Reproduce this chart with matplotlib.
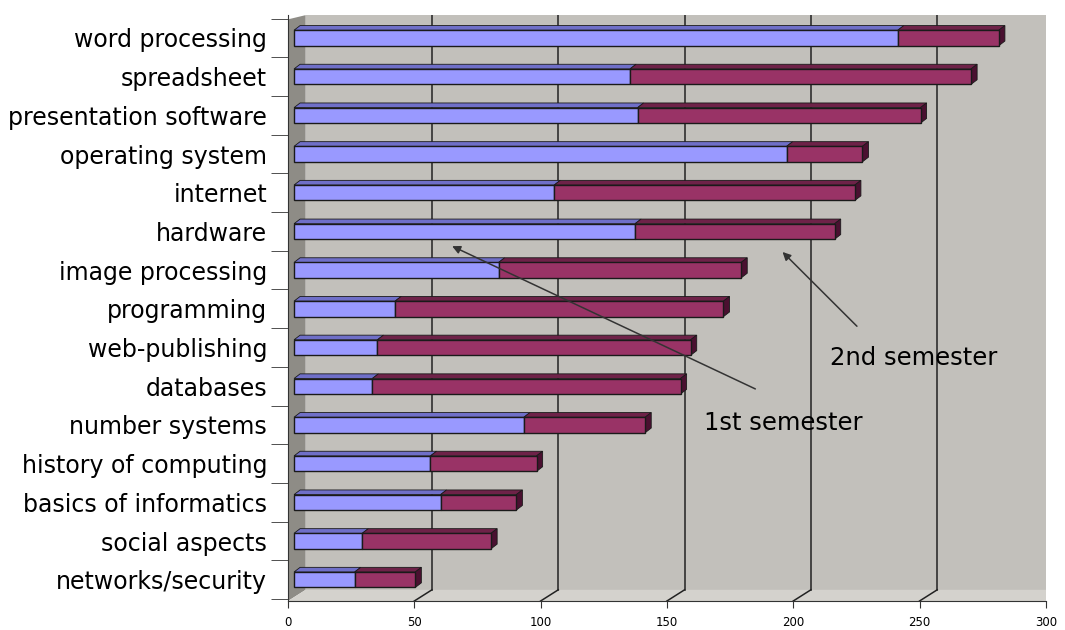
import matplotlib.pyplot as plt
from matplotlib.patches import Polygon

# data (front face of each bar)
topics = ["word processing", "spreadsheet", "presentation software",
          "operating system", "internet", "hardware", "image processing",
          "programming", "web-publishing", "databases", "number systems",
          "history of computing", "basics of informatics", "social aspects",
          "networks/security"]
first_sem = [239, 133, 136, 195, 103, 135, 81, 40, 33, 31, 91, 54, 58, 27, 24]
second_sem = [40, 135, 112, 30, 119, 79, 96, 130, 124, 122, 48, 42, 30, 51, 24]
x_ticks = [0, 50, 100, 150, 200, 250, 300]

# style constants for the fake 3D look
BLUE, BLUE_TOP = "#9999ff", "#6f6fc8"
RED, RED_TOP, RED_SIDE = "#993366", "#6e2248", "#4a1030"
WALL, SIDE_WALL, FLOOR = "#c2c0bb", "#8e8c86", "#d4d2cd"
DEPTH = 7.0      # wall depth in data units
OFF = 2.4        # bars sit a bit behind the front axis
DX, DY = 2.4, 0.12
H = 0.40

fig = plt.figure(figsize=(10.65, 6.3), dpi=100)
ax = fig.add_axes([0.2704, 0.046, 0.7116, 0.930])
ax.set_facecolor("white")
ax.set_xlim(0, 300)
ax.set_ylim(14.55, -0.59)

y = list(range(len(topics)))
floor_y = 14.26

# walls and floor
ax.add_patch(Polygon([(DEPTH, -0.59), (300, -0.59), (300, floor_y), (DEPTH, floor_y)],
                     closed=True, facecolor=WALL, edgecolor="none", zorder=0))
ax.add_patch(Polygon([(0, -0.48), (DEPTH, -0.59), (DEPTH, floor_y), (0, 14.55)],
                     closed=True, facecolor=SIDE_WALL, edgecolor="none", zorder=0))
ax.add_patch(Polygon([(0, 14.55), (DEPTH, floor_y), (300 + DEPTH, floor_y), (300, 14.55)],
                     closed=True, facecolor=FLOOR, edgecolor="none", zorder=0))

# back-wall gridlines
for t in x_ticks[1:-1]:
    ax.plot([t + DEPTH, t + DEPTH], [-0.59, floor_y], color="#222222", lw=1.1, zorder=1)
    ax.plot([t + DEPTH, t], [floor_y, 14.55], color="#222222", lw=1.1, zorder=1)

# bars
left2 = [OFF + a for a in first_sem]
ax.barh(y, first_sem, left=OFF, height=H, color=BLUE, edgecolor="#1a1a1a", lw=1.0, zorder=3)
ax.barh(y, second_sem, left=left2, height=H, color=RED, edgecolor="#1a1a1a", lw=1.0, zorder=3)

for yi, a, b in zip(y, first_sem, second_sem):
    top = yi - H / 2
    bot = yi + H / 2
    x0, x1, x2 = OFF, OFF + a, OFF + a + b
    ax.add_patch(Polygon([(x0, top), (x0 + DX, top - DY), (x1 + DX, top - DY), (x1, top)],
                         closed=True, facecolor=BLUE_TOP, edgecolor="#1a1a1a", lw=0.6, zorder=2))
    ax.add_patch(Polygon([(x1, top), (x1 + DX, top - DY), (x2 + DX, top - DY), (x2, top)],
                         closed=True, facecolor=RED_TOP, edgecolor="#1a1a1a", lw=0.6, zorder=2))
    ax.add_patch(Polygon([(x2, top), (x2 + DX, top - DY), (x2 + DX, bot - DY), (x2, bot)],
                         closed=True, facecolor=RED_SIDE, edgecolor="#1a1a1a", lw=0.6, zorder=2))

# axes
for s in ["top", "right"]:
    ax.spines[s].set_visible(False)
ax.spines["left"].set_color("#333333")
ax.spines["bottom"].set_color("#333333")
ax.set_yticks(y)
ax.set_yticklabels(topics, fontsize=17, family="DejaVu Sans")
ax.tick_params(axis="y", which="major", length=0, pad=15)
ax.set_yticks([i - 0.5 for i in range(len(topics) + 1)], minor=True)
ax.tick_params(axis="y", which="minor", length=12, color="#333333")
ax.set_xticks(x_ticks)
ax.set_xticklabels([str(t) for t in x_ticks], fontsize=8.5)
ax.tick_params(axis="x", length=5, color="#333333", pad=6)

# annotations
ax.annotate("", xy=(195, 5.48), xytext=(226, 7.5),
            arrowprops=dict(arrowstyle="-|>", color="#333333", lw=1.1, mutation_scale=12),
            zorder=5)
ax.text(214.5, 8.27, "2nd semester", fontsize=17.5, va="center", ha="left", zorder=5)
ax.annotate("", xy=(64, 5.35), xytext=(186, 9.1),
            arrowprops=dict(arrowstyle="-|>", color="#333333", lw=1.1, mutation_scale=12),
            zorder=5)
ax.text(164.5, 9.95, "1st semester", fontsize=17.5, va="center", ha="left", zorder=5)

fig.savefig("out.png", dpi=100)
